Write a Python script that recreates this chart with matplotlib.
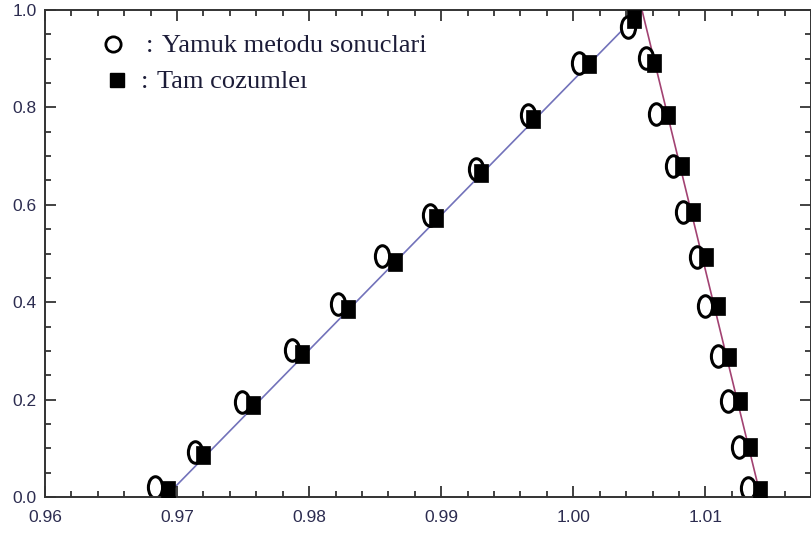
import matplotlib
matplotlib.use("Agg")
from matplotlib import pyplot as plt
from matplotlib.ticker import MultipleLocator
from matplotlib.path import Path
from matplotlib.transforms import Affine2D

# Yamuk (trapezoid) method results
yamuk_sol_x = [0.96830, 0.97132, 0.97495, 0.97872, 0.98219, 0.98551, 0.98913, 0.99260, 0.99660, 1.00045, 1.00415]
yamuk_sol_y = [0.021, 0.092, 0.195, 0.302, 0.396, 0.495, 0.579, 0.674, 0.784, 0.891, 0.965]
yamuk_sag_x = [1.00551, 1.00626, 1.00755, 1.00830, 1.00936, 1.00996, 1.01094, 1.01170, 1.01253, 1.01321]
yamuk_sag_y = [0.901, 0.786, 0.680, 0.585, 0.493, 0.392, 0.290, 0.197, 0.103, 0.018]

# exact solutions
tam_sol_x = [0.96928, 0.97200, 0.97577, 0.97947, 0.98294, 0.98649, 0.98958, 0.99298, 0.99698, 1.00121, 1.00460]
tam_sol_y = [0.014, 0.086, 0.189, 0.294, 0.386, 0.483, 0.573, 0.665, 0.776, 0.889, 0.982]
tam_sag_x = [1.00611, 1.00717, 1.00823, 1.00906, 1.01004, 1.01094, 1.01177, 1.01260, 1.01336, 1.01411]
tam_sag_y = [0.891, 0.784, 0.680, 0.585, 0.493, 0.392, 0.287, 0.197, 0.103, 0.014]

# exact solution curves
cizgi_sol_x = [0.9691, 1.0052]
cizgi_sol_y = [0.0, 1.0]
cizgi_sag_x = [1.0052, 1.0142]
cizgi_sag_y = [1.0, 0.0]

x_ticks = [0.96, 0.97, 0.98, 0.99, 1.00, 1.01]
x_labels = ['0.96', '0.97', '0.98', '0.99', '1.00', '1.01']
y_ticks = [0.0, 0.2, 0.4, 0.6, 0.8, 1.0]
y_labels = ['0.0', '0.2', '0.4', '0.6', '0.8', '1.0']

# slightly tall markers
elips = Path.unit_circle().transformed(Affine2D().scale(0.66, 1.0))
dortgen = Path.unit_rectangle().transformed(Affine2D().translate(-0.5, -0.5).scale(0.74, 1.0))

plt.rcParams['font.family'] = ['Liberation Serif', 'DejaVu Serif']
fig = plt.figure(figsize=(8.11, 5.33), dpi=100)
ax = fig.add_axes([45/811, 36/533, 766/811, 487/533])

ax.plot(cizgi_sol_x, cizgi_sol_y, c='#7272ba', lw=1.2, zorder=1)
ax.plot(cizgi_sag_x, cizgi_sag_y, c='#a24272', lw=1.2, zorder=1)

for xs, ys in [(yamuk_sol_x, yamuk_sol_y), (yamuk_sag_x, yamuk_sag_y)]:
    ax.plot(xs, ys, marker=elips, ms=15.5, mfc='white', mec='black', mew=2.2, ls='none', zorder=2)
for xs, ys in [(tam_sol_x, tam_sol_y), (tam_sag_x, tam_sag_y)]:
    ax.plot(xs, ys, marker=dortgen, ms=13, mfc='black', mec='black', mew=0.5, ls='none', zorder=3)

ax.set_xlim(0.96, 1.018)
ax.set_ylim(0.0, 1.0)
ax.set_xticks(x_ticks, x_labels)
ax.set_yticks(y_ticks, y_labels)
ax.xaxis.set_minor_locator(MultipleLocator(0.002))
ax.yaxis.set_minor_locator(MultipleLocator(0.05))
ax.tick_params(which='both', direction='in', top=True, right=True,
               labelsize=12.5, labelcolor='#2c2c50', width=1.2, color='#222222')
ax.tick_params(which='major', length=8)
ax.tick_params(which='minor', length=4)
ax.tick_params(axis='x', pad=9)
ax.tick_params(axis='y', pad=6)
for lab in ax.get_xticklabels() + ax.get_yticklabels():
    lab.set_family(['Liberation Sans', 'DejaVu Sans'])
for s in ax.spines.values():
    s.set_linewidth(1.4)
    s.set_color('#333333')

# legend drawn by hand
W, H = 811, 533
fig.lines.append(plt.Line2D([113/W], [1 - 44/H], marker='o', ms=11, mfc='white', mec='black',
                            mew=2.0, transform=fig.transFigure))
fig.text(150/W, 1 - 46/H, ':', fontsize=19, ha='center', va='center', color='#1c1c38')
fig.text(162/W, 1 - 46/H, 'Yamuk metodu sonuclari', fontsize=19, va='center', color='#1c1c38')
fig.lines.append(plt.Line2D([117/W], [1 - 80/H], marker='s', ms=10, mfc='black', mec='black',
                            transform=fig.transFigure))
fig.text(145/W, 1 - 82/H, ':', fontsize=19, ha='center', va='center', color='#1c1c38')
fig.text(157/W, 1 - 82/H, 'Tam cozumleı', fontsize=19, va='center', color='#1c1c38')

fig.savefig('out.png', dpi=100)
